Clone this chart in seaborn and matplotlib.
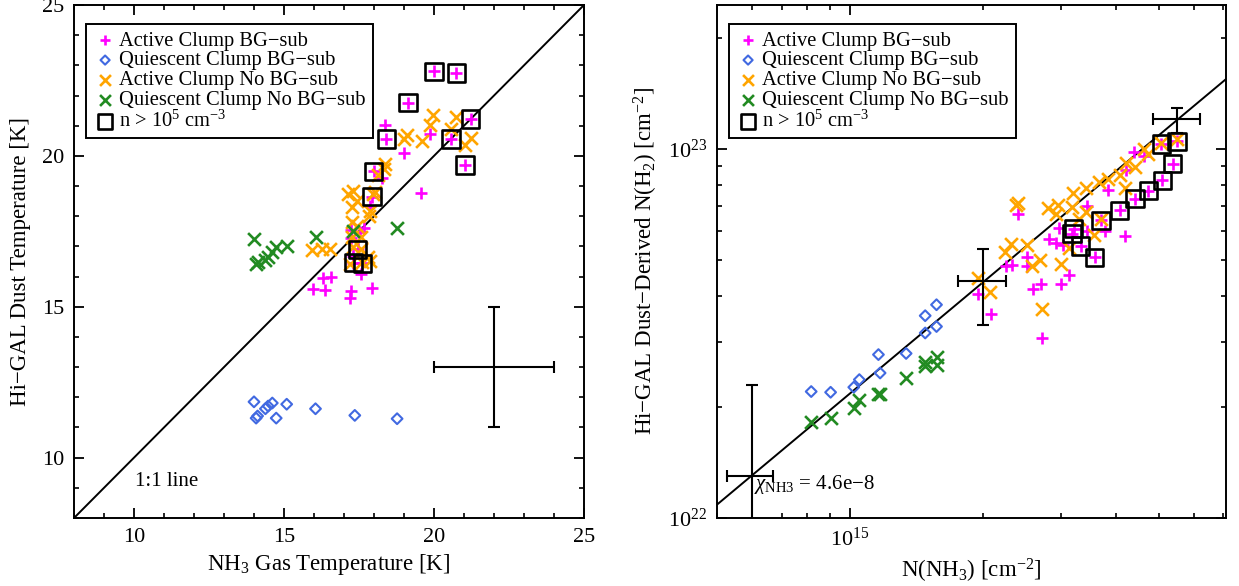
import numpy as np
import matplotlib
matplotlib.use("Agg")
import matplotlib.pyplot as plt
import seaborn as sns
from matplotlib.ticker import MultipleLocator, LogLocator, NullFormatter

# ---------------- Left panel data (temperatures, K) ----------------
act_bg_tgas = [20.0, 20.74, 19.13, 21.22, 18.37, 18.41, 19.87, 20.57, 19.0, 21.03,
               17.99, 18.27, 19.58, 17.93, 17.88, 17.22, 17.53, 17.65, 17.22, 17.45,
               17.31, 17.61, 17.31, 17.56, 16.55, 16.3, 15.97, 16.37, 17.23, 17.92, 17.2]
act_bg_tdust = [22.8, 22.75, 21.76, 21.22, 21.03, 20.56, 20.74, 20.56, 20.1, 19.7,
                19.49, 19.28, 18.78, 18.65, 18.35, 17.53, 17.47, 17.6, 17.29, 16.9,
                16.46, 16.44, 16.67, 16.07, 16.0, 15.94, 15.6, 15.56, 15.52, 15.63, 15.28]

qui_bg_tgas = [14.0, 14.07, 14.12, 14.38, 14.47, 14.61, 14.74, 15.09, 16.05, 17.36, 18.77]
qui_bg_tdust = [11.85, 11.31, 11.38, 11.62, 11.71, 11.81, 11.31, 11.77, 11.62, 11.40, 11.29]

act_nobg_tgas = [19.96, 20.72, 19.85, 20.55, 19.1, 19.0, 19.59, 21.02, 21.22, 18.35,
                 18.33, 18.14, 17.31, 17.14, 17.44, 17.95, 18.04, 17.26, 17.87, 17.84,
                 17.26, 17.42, 17.56, 17.26, 17.31, 17.56, 16.28, 16.53, 15.93, 17.81,
                 17.87, 17.2, 17.59]
act_nobg_tdust = [21.35, 21.3, 21.03, 20.9, 20.7, 20.57, 20.5, 20.37, 20.6, 19.72,
                  19.55, 19.35, 18.83, 18.74, 18.5, 18.75, 18.8, 18.3, 18.19, 18.0,
                  17.8, 17.69, 17.3, 17.3, 16.97, 16.92, 16.92, 16.9, 16.89, 16.64,
                  16.53, 16.43, 16.5]

qui_nobg_tgas = [14.0, 14.07, 14.12, 14.38, 14.47, 14.61, 14.74, 15.09, 16.05, 17.31, 18.75]
qui_nobg_tdust = [17.25, 16.42, 16.5, 16.55, 16.65, 16.8, 16.97, 17.03, 17.3, 17.52, 17.61]

dense_tgas = [20.0, 20.74, 19.13, 21.22, 18.41, 20.57, 21.03, 17.99, 17.93, 17.45, 17.31, 17.61]
dense_tdust = [22.8, 22.75, 21.76, 21.22, 20.56, 20.56, 19.7, 19.49, 18.65, 16.9, 16.46, 16.44]

one_to_one = [8, 25]
err_center_t = (22.0, 13.0)
err_size_t = (2.0, 2.0)

# ---------------- Right panel data (column densities, cm^-2) ----------------
act_bg_nnh3 = [5.50e15, 5.07e15, 5.38e15, 5.09e15, 4.74e15, 4.42e15, 4.08e15, 3.70e15,
               3.21e15, 3.18e15, 3.33e15, 3.58e15,
               4.40e15, 4.63e15, 4.22e15, 3.84e15, 3.44e15, 3.44e15, 3.77e15, 4.19e15,
               2.97e15, 2.82e15, 2.92e15, 3.03e15, 2.40e15, 2.52e15, 2.52e15, 2.33e15,
               2.25e15, 3.13e15, 3.00e15, 2.70e15, 2.59e15, 1.95e15, 2.09e15, 2.72e15]
act_bg_nh2 = [1.047e23, 1.03e23, 9.10e22, 8.22e22, 7.69e22, 7.33e22, 6.81e22, 6.40e22,
              6.07e22, 5.89e22, 5.45e22, 5.08e22,
              9.79e22, 9.53e22, 8.77e22, 7.73e22, 7.00e22, 5.98e22, 5.97e22, 5.79e22,
              6.11e22, 5.68e22, 5.55e22, 5.47e22, 6.65e22, 5.09e22, 4.80e22, 4.84e22,
              4.80e22, 4.54e22, 4.30e22, 4.30e22, 4.16e22, 4.05e22, 3.57e22, 3.07e22]

qui_bg_nnh3 = [8.17e14, 9.04e14, 1.02e15, 1.05e15, 1.16e15, 1.17e15, 1.34e15, 1.48e15,
               1.48e15, 1.57e15, 1.57e15]
qui_bg_nh2 = [2.20e22, 2.19e22, 2.26e22, 2.37e22, 2.77e22, 2.47e22, 2.79e22, 3.53e22,
              3.17e22, 3.78e22, 3.30e22]

act_nobg_nnh3 = [5.50e15, 5.07e15, 4.62e15, 4.74e15, 4.22e15, 4.42e15, 4.08e15, 3.84e15,
                 3.66e15, 3.42e15, 4.19e15, 3.20e15, 3.18e15, 2.96e15, 2.81e15, 2.92e15,
                 3.43e15, 3.30e15, 3.71e15, 2.40e15, 2.38e15, 2.32e15, 2.24e15, 2.52e15,
                 2.69e15, 2.58e15, 3.00e15, 3.56e15, 3.13e15, 1.95e15, 2.08e15, 2.72e15]
act_nobg_nh2 = [1.06e23, 1.035e23, 1.0e23, 9.66e22, 9.12e22, 8.95e22, 8.47e22, 8.30e22,
                8.11e22, 7.83e22, 7.83e22, 7.57e22, 6.97e22, 7.03e22, 6.89e22, 6.64e22,
                6.73e22, 6.46e22, 6.46e22, 7.14e22, 7.05e22, 5.52e22, 5.25e22, 5.50e22,
                5.01e22, 4.82e22, 4.86e22, 5.85e22, 5.37e22, 4.47e22, 4.08e22, 3.69e22]

qui_nobg_nnh3 = [8.17e14, 9.04e14, 1.02e15, 1.05e15, 1.16e15, 1.17e15, 1.34e15, 1.48e15,
                 1.48e15, 1.57e15, 1.57e15]
qui_nobg_nh2 = [1.82e22, 1.87e22, 1.99e22, 2.09e22, 2.17e22, 2.16e22, 2.40e22, 2.64e22,
                2.58e22, 2.73e22, 2.59e22]

dense_nnh3 = [5.50e15, 5.07e15, 5.38e15, 5.09e15, 4.74e15, 4.42e15, 4.08e15, 3.70e15,
              3.21e15, 3.18e15, 3.33e15, 3.58e15]
dense_nh2 = [1.047e23, 1.03e23, 9.10e22, 8.22e22, 7.69e22, 7.33e22, 6.81e22, 6.40e22,
             6.07e22, 5.89e22, 5.45e22, 5.08e22]

chi_nh3 = 4.6e-8
fit_nnh3 = [5.0e14, 7.1e15]

err_nnh3 = [6.0e14, 2.0e15, 5.5e15]
err_nnh3_lo = [5.27e14, 1.76e15, 4.86e15]
err_nnh3_hi = [6.71e14, 2.25e15, 6.20e15]
err_nh2 = [1.30e22, 4.38e22, 1.20e23]
err_nh2_lo = [7.3e21, 3.34e22, 1.10e23]
err_nh2_hi = [2.29e22, 5.36e22, 1.29e23]

labels = ["Active Clump BG\u2212sub", "Quiescent Clump BG\u2212sub",
          "Active Clump No BG\u2212sub", "Quiescent Clump No BG\u2212sub",
          r"n > 10$^{5}$ cm$^{-3}$"]

MAG = "#FF00FF"
BLUE = "#4169E1"
ORANGE = "#FFA500"
GREEN = "#228B22"

sns.set_theme(style="ticks")
plt.rcParams.update({
    "font.family": ["Liberation Serif", "DejaVu Serif"],
    "mathtext.fontset": "custom",
    "mathtext.rm": "Liberation Serif",
    "mathtext.it": "Liberation Serif:italic",
    "mathtext.bf": "Liberation Serif:bold",
    "axes.linewidth": 1.4,
    "axes.edgecolor": "black",
    "xtick.direction": "in",
    "ytick.direction": "in",
    "xtick.top": True,
    "ytick.right": True,
    "xtick.major.size": 7,
    "ytick.major.size": 7,
    "xtick.minor.size": 3.5,
    "ytick.minor.size": 3.5,
    "xtick.major.width": 1.3,
    "ytick.major.width": 1.3,
    "xtick.minor.width": 1.2,
    "ytick.minor.width": 1.2,
    "xtick.color": "black",
    "ytick.color": "black",
    "xtick.labelsize": 16,
    "ytick.labelsize": 16,
    "axes.labelsize": 16.5,
    "text.color": "black",
    "axes.labelcolor": "black",
})

fig = plt.figure(figsize=(12.39, 5.86), dpi=100)
W, H = 1239.0, 586.0
ax1 = fig.add_axes([74 / W, (H - 518) / H, 510 / W, 513 / H])
ax2 = fig.add_axes([717 / W, (H - 518) / H, 509 / W, 513 / H])


def draw_points(ax, series):
    (abx, aby), (qbx, qby), (anx, any_), (qnx, qny), (dx, dy) = series
    sns.scatterplot(x=abx, y=aby, marker="+", s=75, color=MAG, linewidth=1.9,
                    label=labels[0], ax=ax, zorder=3)
    sns.scatterplot(x=qbx, y=qby, marker="D", s=30, color=BLUE, facecolor="none",
                    edgecolor=BLUE, linewidth=1.5, label=labels[1], ax=ax, zorder=3)
    sns.scatterplot(x=anx, y=any_, marker="x", s=85, color=ORANGE, linewidth=1.9,
                    label=labels[2], ax=ax, zorder=3)
    sns.scatterplot(x=qnx, y=qny, marker="x", s=85, color=GREEN, linewidth=1.9,
                    label=labels[3], ax=ax, zorder=3)
    sns.scatterplot(x=dx, y=dy, marker="s", s=155, color="black", facecolor="none",
                    edgecolor="black", linewidth=1.9, label=labels[4], ax=ax, zorder=4)


def style_legend(ax):
    leg = ax.legend(loc="upper left", bbox_to_anchor=(0.0245, 0.962), borderaxespad=0,
                    fontsize=14.8, frameon=True, fancybox=False, framealpha=1,
                    edgecolor="black", handlelength=1.15, handletextpad=0.12,
                    labelspacing=0.02, borderpad=0.33, markerscale=0.85)
    leg.get_frame().set_linewidth(1.4)


# ---------------- Left panel ----------------
sns.lineplot(x=one_to_one, y=one_to_one, color="black", linewidth=1.4, ax=ax1,
             legend=False, zorder=2)
draw_points(ax1, [(act_bg_tgas, act_bg_tdust), (qui_bg_tgas, qui_bg_tdust),
                  (act_nobg_tgas, act_nobg_tdust), (qui_nobg_tgas, qui_nobg_tdust),
                  (dense_tgas, dense_tdust)])
ax1.errorbar([err_center_t[0]], [err_center_t[1]], xerr=[err_size_t[0]],
             yerr=[err_size_t[1]], fmt="none", ecolor="black", elinewidth=1.5,
             capsize=4, capthick=1.5)
ax1.text(10.03, 9.2, "1:1 line", fontsize=15, ha="left", va="center")
ax1.set_xlim(8, 25)
ax1.set_ylim(8, 25)
ax1.xaxis.set_major_locator(MultipleLocator(5))
ax1.xaxis.set_minor_locator(MultipleLocator(1))
ax1.yaxis.set_major_locator(MultipleLocator(5))
ax1.yaxis.set_minor_locator(MultipleLocator(1))
ax1.set_xlabel(r"NH$_3$ Gas Temperature [K]", labelpad=4)
ax1.set_ylabel("Hi\u2212GAL Dust Temperature [K]", labelpad=8)
ax1.tick_params(axis="both", which="major", pad=7)
style_legend(ax1)

# ---------------- Right panel ----------------
fit_nh2 = [v / chi_nh3 for v in fit_nnh3]
sns.lineplot(x=fit_nnh3, y=fit_nh2, color="black", linewidth=1.4, ax=ax2,
             legend=False, zorder=2)
draw_points(ax2, [(act_bg_nnh3, act_bg_nh2), (qui_bg_nnh3, qui_bg_nh2),
                  (act_nobg_nnh3, act_nobg_nh2), (qui_nobg_nnh3, qui_nobg_nh2),
                  (dense_nnh3, dense_nh2)])
xe = np.array([np.array(err_nnh3) - np.array(err_nnh3_lo),
               np.array(err_nnh3_hi) - np.array(err_nnh3)])
ye = np.array([np.array(err_nh2) - np.array(err_nh2_lo),
               np.array(err_nh2_hi) - np.array(err_nh2)])
ax2.errorbar(err_nnh3, err_nh2, xerr=xe, yerr=ye, fmt="none", ecolor="black",
             elinewidth=1.5, capsize=4, capthick=1.5, zorder=5)
ax2.text(6.05e14, 1.23e22, r"$\chi_{\rm NH3}$" + " = 4.6e\u22128", fontsize=15,
         ha="left", va="center")
ax2.set_xscale("log")
ax2.set_yscale("log")
ax2.set_xlim(5.0e14, 7.1e15)
ax2.set_ylim(1.0e22, 2.45e23)
ax2.xaxis.set_major_locator(LogLocator(base=10))
ax2.xaxis.set_minor_locator(LogLocator(base=10, subs=np.arange(2, 10)))
ax2.yaxis.set_major_locator(LogLocator(base=10))
ax2.yaxis.set_minor_locator(LogLocator(base=10, subs=np.arange(2, 10)))
ax2.xaxis.set_minor_formatter(NullFormatter())
ax2.yaxis.set_minor_formatter(NullFormatter())
ax2.set_xlabel(r"N(NH$_3$) [cm$^{-2}$]", labelpad=4)
ax2.set_ylabel(r"Hi$-$GAL Dust$-$Derived N(H$_2$) [cm$^{-2}$]", labelpad=6)
ax2.tick_params(axis="both", which="major", pad=7)
style_legend(ax2)

fig.savefig("out.png", dpi=100)
